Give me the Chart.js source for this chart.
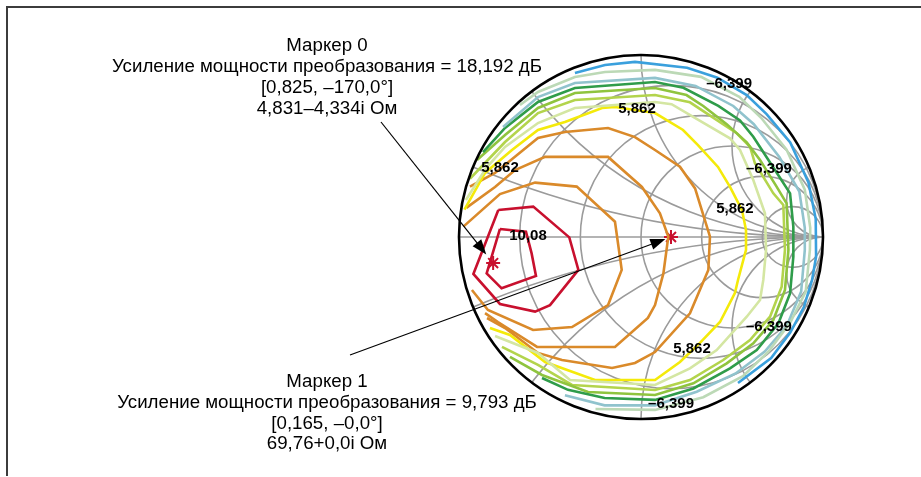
<!DOCTYPE html>
<html><head><meta charset="utf-8">
<script src="https://cdn.jsdelivr.net/npm/chart.js@4.4.1/dist/chart.umd.min.js"></script>
<style>html,body{margin:0;padding:0;background:#fff;overflow:hidden}canvas{display:block}</style>
</head><body>
<canvas id="c" width="921" height="477"></canvas>
<script>
// ---------- data (reflection-coefficient plane, Γ = x + j·y) ----------
const markerNames = ['Маркер 0', 'Маркер 1'];
const markerGainDb = [18.192, 9.793];
const markerGammaMag = [0.825, 0.165];
const markerGammaAngle = [-170.0, -0.0];
const markerImpedance = ['4,831–4,334i Ом', '69,76+0,0i Ом'];

const resistanceValues = [0.2, 0.5, 1, 2, 5];
const reactanceValues = [0.2, 0.5, 1, 2, 5];

const contourRed1 = [[-0.775,0.044],[-0.632,0.029],[-0.601,-0.090],[-0.577,-0.214],[-0.766,-0.282],[-0.848,-0.200],[-0.775,0.044]];
const contourRed2 = [[-0.784,0.148],[-0.592,0.167],[-0.394,-0.002],[-0.344,-0.181],[-0.500,-0.374],[-0.582,-0.410],[-0.775,-0.368],[-0.921,-0.203],[-0.784,0.148]];
const contourOrange1 = [[-0.976,0.057],[-0.775,0.236],[-0.582,0.299],[-0.353,0.277],[-0.143,0.084],[-0.106,-0.181],[-0.181,-0.374],[-0.379,-0.495],[-0.593,-0.511],[-0.841,-0.401],[-0.929,-0.291]];
const contourOrange2 = [[-0.960,0.160],[-0.802,0.275],[-0.692,0.368],[-0.527,0.440],[-0.181,0.440],[0.005,0.275],[0.104,0.130],[0.150,0.002],[0.123,-0.200],[0.077,-0.374],[0.038,-0.445],[-0.143,-0.604],[-0.571,-0.604],[-0.786,-0.467],[-0.857,-0.418]];
const contourOrange3 = [[-0.940,0.277],[-0.802,0.352],[-0.566,0.544],[-0.418,0.577],[-0.181,0.599],[-0.033,0.549],[0.077,0.478],[0.214,0.386],[0.297,0.267],[0.379,0.002],[0.370,-0.181],[0.269,-0.419],[0.077,-0.632],[-0.033,-0.692],[-0.159,-0.720],[-0.434,-0.676],[-0.566,-0.637],[-0.747,-0.500],[-0.846,-0.445]];
const contourYellow = [[-0.970,0.150],[-0.857,0.352],[-0.709,0.478],[-0.566,0.588],[-0.418,0.632],[-0.214,0.709],[-0.143,0.714],[0.077,0.681],[0.121,0.654],[0.231,0.588],[0.313,0.505],[0.423,0.385],[0.489,0.275],[0.555,0.148],[0.577,0.038],[0.577,-0.071],[0.533,-0.236],[0.516,-0.308],[0.434,-0.467],[0.324,-0.582],[0.214,-0.687],[0.077,-0.786],[-0.253,-0.786],[-0.527,-0.687],[-0.720,-0.538],[-0.830,-0.500]];
const contourPaleGreen = [[-0.962,0.203],[-0.850,0.380],[-0.747,0.495],[-0.566,0.626],[-0.363,0.709],[0.077,0.742],[0.168,0.730],[0.315,0.643],[0.489,0.542],[0.544,0.478],[0.617,0.313],[0.681,0.130],[0.687,-0.071],[0.672,-0.236],[0.654,-0.346],[0.581,-0.438],[0.416,-0.621],[0.269,-0.722],[0.077,-0.813],[-0.390,-0.786],[-0.566,-0.637],[-0.802,-0.544]];
const contourYellowGreen1 = [[-0.940,0.320],[-0.747,0.522],[-0.566,0.681],[-0.363,0.753],[0.077,0.780],[0.269,0.740],[0.388,0.661],[0.526,0.570],[0.599,0.496],[0.626,0.405],[0.727,0.240],[0.782,0.176],[0.791,-0.071],[0.773,-0.273],[0.709,-0.438],[0.599,-0.566],[0.452,-0.676],[0.269,-0.786],[0.077,-0.841],[-0.379,-0.813],[-0.566,-0.703],[-0.764,-0.604]];
const contourYellowGreen2 = [[-0.901,0.423],[-0.747,0.560],[-0.566,0.709],[-0.363,0.791],[0.077,0.819],[0.250,0.780],[0.342,0.720],[0.471,0.620],[0.581,0.520],[0.654,0.423],[0.745,0.277],[0.800,0.185],[0.810,-0.071],[0.791,-0.291],[0.727,-0.456],[0.617,-0.584],[0.471,-0.694],[0.288,-0.804],[0.077,-0.868],[-0.291,-0.852],[-0.544,-0.758],[-0.720,-0.659]];
const contourDarkGreen = [[-0.868,0.467],[-0.747,0.599],[-0.566,0.742],[-0.363,0.819],[0.077,0.852],[0.233,0.820],[0.425,0.720],[0.544,0.640],[0.617,0.551],[0.736,0.368],[0.819,0.240],[0.837,0.057],[0.837,-0.108],[0.819,-0.310],[0.755,-0.474],[0.636,-0.621],[0.489,-0.722],[0.288,-0.832],[0.077,-0.895],[-0.200,-0.885],[-0.401,-0.840],[-0.544,-0.775]];
const contourTeal = [[-0.758,0.604],[-0.566,0.769],[-0.363,0.846],[0.077,0.874],[0.300,0.830],[0.507,0.720],[0.620,0.620],[0.760,0.440],[0.870,0.250],[0.900,0.050],[0.900,-0.071],[0.880,-0.300],[0.800,-0.490],[0.680,-0.630],[0.520,-0.750],[0.306,-0.850],[0.077,-0.925],[-0.200,-0.925],[-0.418,-0.870]];
const contourPale = [[-0.665,0.725],[-0.566,0.797],[-0.363,0.879],[-0.198,0.907],[0.077,0.918],[0.330,0.880],[0.540,0.770],[0.660,0.655],[0.800,0.480],[0.900,0.260],[0.930,0.050],[0.928,-0.071],[0.905,-0.300],[0.820,-0.470],[0.700,-0.630],[0.560,-0.765],[0.342,-0.880],[0.077,-0.950],[-0.250,-0.945]];
const contourBlue = [[-0.363,0.901],[-0.198,0.945],[-0.033,0.962],[0.253,0.930],[0.420,0.875],[0.581,0.780],[0.690,0.675],[0.820,0.520],[0.920,0.300],[0.960,0.100],[0.962,-0.108],[0.940,-0.236],[0.895,-0.385],[0.820,-0.525],[0.715,-0.665],[0.533,-0.802]];

const gainLabelText = ['10,08','5,862','5,862','5,862','5,862','–6,399','–6,399','–6,399','–6,399'];
const gainLabelX = [-0.621,-0.022,-0.775,0.516,0.280,0.484,0.703,0.703,0.165];
const gainLabelY = [0.011,0.709,0.385,0.159,-0.610,0.846,0.379,-0.489,-0.912];

// ---------- styles / layout ----------
const contours = [contourBlue, contourPale, contourTeal, contourDarkGreen, contourYellowGreen2, contourYellowGreen1, contourPaleGreen, contourYellow, contourOrange3, contourOrange2, contourOrange1, contourRed2, contourRed1];
const contourColors = ['#3aa0dd','#bcd9b6','#90c3cd','#2f9c4a','#8fc43e','#b3d44c','#d4e6a2','#f4ea0a','#da8a2a','#da8a2a','#da8a2a','#c8102e','#c8102e'];
const FONT = '"Liberation Sans", Arial, Helvetica, sans-serif';
const textCenterX = 327;
const textBaselines = [[51,72,93,114],[387,408,429,449]];
const arrowStarts = [[381,122],[350,355]];
const arrowGaps = [11,6];

function fmt(v, d){
  const neg = v < 0 || Object.is(v, -0);
  return (neg ? '–' : '') + Math.abs(v).toFixed(d).replace('.', ',');
}
const markerPoints = markerGammaMag.map((m, i) => {
  const a = markerGammaAngle[i] * Math.PI / 180;
  return {x: m * Math.cos(a), y: m * Math.sin(a)};
});

const datasets = contours.map((c, i) => ({
  data: c.map(p => ({x: p[0], y: p[1]})),
  showLine: true, borderColor: contourColors[i], borderWidth: 2.6,
  pointRadius: 0, fill: false, tension: 0, clip: false
}));
datasets.push({
  data: markerPoints, showLine: false, pointStyle: 'star', pointRadius: 7,
  borderColor: '#c8102e', backgroundColor: '#c8102e', pointBorderWidth: 2, borderWidth: 2, clip: false
});

const smith = {
  id: 'smith',
  beforeDatasetsDraw(chart){
    const {ctx, scales:{x, y}} = chart;
    const cx = x.getPixelForValue(0), cy = y.getPixelForValue(0);
    const R = x.getPixelForValue(1) - cx;
    ctx.save();
    ctx.beginPath(); ctx.arc(cx, cy, R, 0, 2*Math.PI); ctx.clip();
    ctx.strokeStyle = '#9b9b9b'; ctx.lineWidth = 1.6;
    resistanceValues.forEach(r => {
      ctx.beginPath();
      ctx.arc(x.getPixelForValue(r/(1+r)), cy, R/(1+r), 0, 2*Math.PI);
      ctx.stroke();
    });
    reactanceValues.forEach(xv => {
      [1,-1].forEach(s => {
        ctx.beginPath();
        ctx.arc(x.getPixelForValue(1), y.getPixelForValue(s/xv), R/xv, 0, 2*Math.PI);
        ctx.stroke();
      });
    });
    ctx.beginPath(); ctx.moveTo(cx-R, cy); ctx.lineTo(cx+R, cy); ctx.stroke();
  },
  afterDatasetsDraw(chart){
    chart.ctx.restore();
  },
  afterDraw(chart){
    const {ctx, scales:{x, y}} = chart;
    const cx = x.getPixelForValue(0), cy = y.getPixelForValue(0);
    const R = x.getPixelForValue(1) - cx;
    ctx.save();
    ctx.strokeStyle = '#000'; ctx.lineWidth = 2.6;
    ctx.beginPath(); ctx.arc(cx, cy, R, 0, 2*Math.PI); ctx.stroke();
    ctx.fillStyle = '#000'; ctx.font = 'bold 15px ' + FONT;
    ctx.textAlign = 'center'; ctx.textBaseline = 'middle';
    gainLabelText.forEach((t, i) => {
      ctx.fillText(t, x.getPixelForValue(gainLabelX[i]), y.getPixelForValue(gainLabelY[i]) + 1);
    });
    ctx.font = '18.7px ' + FONT; ctx.textBaseline = 'alphabetic';
    markerNames.forEach((n, i) => {
      const lines = [n,
        'Усиление мощности преобразования = ' + fmt(markerGainDb[i], 3) + ' дБ',
        '[' + fmt(markerGammaMag[i], 3) + ', ' + fmt(markerGammaAngle[i], 1) + '°]',
        markerImpedance[i]];
      lines.forEach((l, k) => ctx.fillText(l, textCenterX, textBaselines[i][k]));
      const mx = x.getPixelForValue(markerPoints[i].x), my = y.getPixelForValue(markerPoints[i].y);
      const [sx, sy] = arrowStarts[i];
      const dx = mx - sx, dy = my - sy, L = Math.hypot(dx, dy);
      const ux = dx/L, uy = dy/L;
      const tx = mx - ux*arrowGaps[i], ty = my - uy*arrowGaps[i];
      const hl = 15, hw = 5.5;
      ctx.strokeStyle = '#000'; ctx.lineWidth = 1.2;
      ctx.beginPath(); ctx.moveTo(sx, sy); ctx.lineTo(tx - ux*hl*0.8, ty - uy*hl*0.8); ctx.stroke();
      ctx.beginPath();
      ctx.moveTo(tx, ty);
      ctx.lineTo(tx - ux*hl - uy*hw, ty - uy*hl + ux*hw);
      ctx.lineTo(tx - ux*hl + uy*hw, ty - uy*hl - ux*hw);
      ctx.closePath(); ctx.fill();
    });
    ctx.strokeStyle = '#3c3c3c'; ctx.lineWidth = 2;
    ctx.beginPath(); ctx.moveTo(7, 476); ctx.lineTo(7, 7); ctx.lineTo(921, 7); ctx.stroke();
    ctx.restore();
  }
};

new Chart(document.getElementById('c'), {
  type: 'scatter',
  data: {datasets},
  options: {
    responsive: false, animation: false, devicePixelRatio: 1,
    layout: {padding: {left: 459, right: 98, top: 55, bottom: 58}},
    scales: {
      x: {type: 'linear', min: -1, max: 1, display: false},
      y: {type: 'linear', min: -1, max: 1, display: false}
    },
    plugins: {legend: {display: false}, tooltip: {enabled: false}},
    elements: {line: {tension: 0}}
  },
  plugins: [smith]
});
</script>
</body></html>
